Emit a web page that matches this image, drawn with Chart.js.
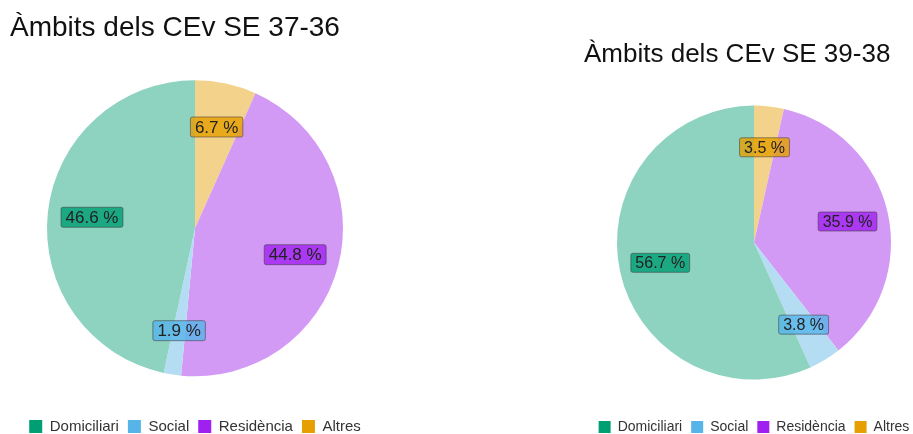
<!DOCTYPE html>
<html>
<head>
<meta charset="utf-8">
<script src="https://cdn.jsdelivr.net/npm/chart.js@4/dist/chart.umd.min.js"></script>
<style>
  html, body { margin: 0; padding: 0; background: #fff; width: 913px; height: 434px; overflow: hidden; }
  .box { position: absolute; top: 0; height: 444px; }
</style>
</head>
<body>
<div class="box" style="left:0px;width:390px"><canvas id="pieLeft"></canvas></div>
<div class="box" style="left:574px;width:360px"><canvas id="pieRight"></canvas></div>
<script>
// legend order
const categories = ['Domiciliari', 'Social', 'Residència', 'Altres'];
const valuesSE37 = [46.6, 1.9, 44.8, 6.7];
const valuesSE39 = [56.7, 3.8, 35.9, 3.5];
const titleSE37 = 'Àmbits dels CEv SE 37-36';
const titleSE39 = 'Àmbits dels CEv SE 39-38';

const strongColors = ['#009E73', '#56B4E9', '#A020F0', '#E69F00'];
const lightColors = ['#8ED2C0', '#B4DDF3', '#D39AF5', '#F3D28C'];
const labelColors = ['rgba(0,158,115,0.8)', 'rgba(86,180,233,0.8)', 'rgba(160,32,240,0.8)', 'rgba(230,159,0,0.8)'];

// the pie is drawn clockwise from the top: Altres, Residència, Social, Domiciliari
function rev(a) { return a.slice().reverse(); }

const sliceLabels = {
  id: 'sliceLabels',
  afterDatasetsDraw(chart) {
    const ctx = chart.ctx;
    const meta = chart.getDatasetMeta(0);
    const ds = chart.data.datasets[0];
    const fs = chart.options.plugins.sliceLabels.size;
    ctx.save();
    ctx.font = fs + 'px "Liberation Sans", Arial, sans-serif';
    ctx.textAlign = 'center';
    ctx.textBaseline = 'middle';
    meta.data.forEach((arc, i) => {
      const p = arc.getProps(['x', 'y', 'startAngle', 'endAngle', 'outerRadius'], true);
      const mid = (p.startAngle + p.endAngle) / 2;
      const r = p.outerRadius * 0.7;
      const x = p.x + Math.cos(mid) * r;
      const y = p.y + Math.sin(mid) * r;
      const txt = ds.data[i].toFixed(1) + ' %';
      const w = ctx.measureText(txt).width + 9;
      const h = fs + 3;
      ctx.beginPath();
      ctx.roundRect(x - w / 2, y - h / 2, w, h, 2);
      ctx.fillStyle = ds.labelColors[i];
      ctx.fill();
      ctx.lineWidth = 1;
      ctx.strokeStyle = 'rgba(60,60,60,0.55)';
      ctx.stroke();
      ctx.fillStyle = '#222';
      ctx.fillText(txt, x, y + 1);
    });
    ctx.restore();
  }
};

function makePie(id, values, title, radius, titleFont, titlePad, legendFont, labelFont) {
  new Chart(document.getElementById(id), {
    type: 'pie',
    data: {
      labels: rev(categories),
      datasets: [{
        data: rev(values),
        backgroundColor: rev(lightColors),
        labelColors: rev(labelColors),
        borderWidth: 0,
        radius: radius
      }]
    },
    options: {
      responsive: false,
      animation: false,
      layout: { padding: { left: 10, right: 10, top: 0, bottom: 0 } },
      plugins: {
        tooltip: { enabled: false },
        sliceLabels: { size: labelFont },
        title: {
          display: true,
          text: title,
          align: 'start',
          color: '#111',
          font: { family: '"Liberation Sans", Arial, sans-serif', size: titleFont, weight: 'normal' },
          padding: titlePad
        },
        legend: {
          position: 'bottom',
          labels: {
            boxWidth: legendFont - 2,
            boxHeight: legendFont - 2,
            padding: 9,
            color: '#333',
            font: { family: '"Liberation Sans", Arial, sans-serif', size: legendFont },
            generateLabels: () => categories.map((c, i) => ({
              text: c,
              fillStyle: strongColors[i],
              strokeStyle: strongColors[i],
              lineWidth: 0,
              fontColor: '#333',
              index: i
            }))
          }
        }
      }
    },
    plugins: [sliceLabels]
  });
}

function sizeCanvas(id, w, h) {
  const c = document.getElementById(id);
  c.width = w; c.height = h;
  c.style.width = w + 'px'; c.style.height = h + 'px';
}
sizeCanvas('pieLeft', 390, 444);
sizeCanvas('pieRight', 360, 444);

makePie('pieLeft', valuesSE37, titleSE37, 148, 28, { top: 11, bottom: 2 }, 15, 17);
makePie('pieRight', valuesSE39, titleSE39, 137, 26, { top: 39, bottom: 4 }, 14, 16);
</script>
</body>
</html>
